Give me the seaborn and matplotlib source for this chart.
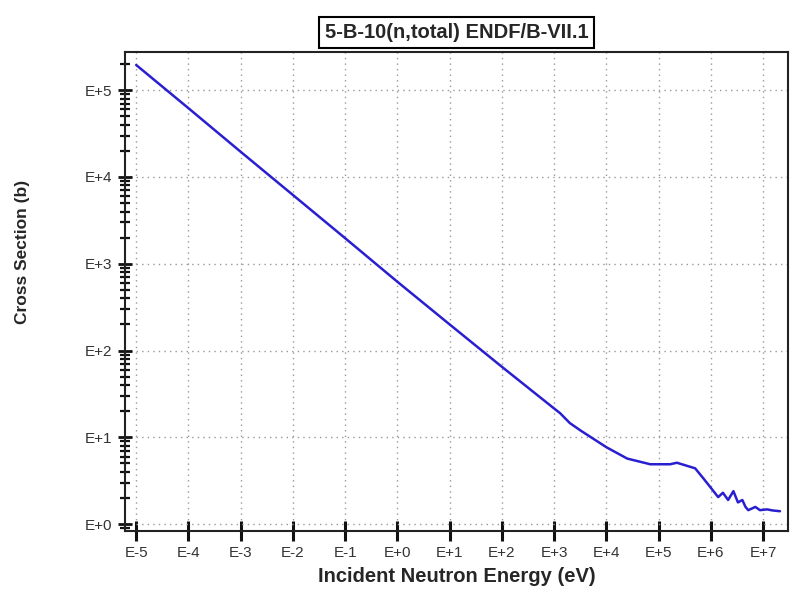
import numpy as np
import pandas as pd
import matplotlib
matplotlib.use("Agg")
import matplotlib.pyplot as plt
import matplotlib.ticker as mticker
import seaborn as sns

# Data (energy in eV, cross section in barns)
energy = [1e-5, 1e-4, 1e-3, 1e-2, 1e-1, 1.0, 10.0, 100.0, 1000.0,
          1.3e3, 2.0e3, 3.2e3, 1.0e4, 2.5e4, 6.9e4, 1.66e5, 2.24e5,
          5.0e5, 7.1e5, 1.38e6, 1.7e6, 2.14e6, 2.7e6, 3.3e6, 4.0e6,
          4.6e6, 5.2e6, 7.1e6, 8.7e6, 1.2e7, 1.5e7, 2.1e7]
xs = [1.95e5, 6.2e4, 1.95e4, 6.2e3, 1.97e3, 620, 200, 65, 21.5,
      19.0, 14.6, 12.0, 7.7, 5.7, 4.9, 4.9, 5.1,
      4.4, 3.4, 2.05, 2.3, 1.9, 2.4, 1.78, 1.9,
      1.58, 1.45, 1.58, 1.45, 1.48, 1.44, 1.41]

title = "5-B-10(n,total) ENDF/B-VII.1"
xlabel = "Incident Neutron Energy (eV)"
ylabel = "Cross Section (b)"

df = pd.DataFrame({"energy": energy, "xs": xs})

sns.set_style("white")
plt.rcParams["font.family"] = ["Liberation Sans", "DejaVu Sans"]

fig = plt.figure(figsize=(7.96, 6.05), dpi=100)
ax = fig.add_axes([0.157, 0.122, 0.833, 0.792])

sns.lineplot(data=df, x="energy", y="xs", ax=ax, color="#2a1fd0",
             linewidth=1.8, sort=False)

ax.set_xscale("log")
ax.set_yscale("log")
ax.set_xlim(6.1e-6, 3.0e7)
ax.set_ylim(0.83, 2.75e5)

def efmt(v, pos):
    if v <= 0:
        return ""
    e = int(round(np.log10(v)))
    return f"E+{e}" if e >= 0 else f"E{e}"

ax.xaxis.set_major_locator(mticker.LogLocator(base=10, numticks=30))
ax.xaxis.set_minor_locator(mticker.NullLocator())
ax.xaxis.set_major_formatter(mticker.FuncFormatter(efmt))
ax.yaxis.set_major_locator(mticker.LogLocator(base=10, numticks=30))
ax.yaxis.set_minor_locator(mticker.LogLocator(base=10, subs=np.arange(2, 10), numticks=30))
ax.yaxis.set_major_formatter(mticker.FuncFormatter(efmt))
ax.yaxis.set_minor_formatter(mticker.NullFormatter())

ax.tick_params(axis="x", which="major", bottom=True, direction="inout", length=14, width=2.2,
               color="#111111", labelsize=11, labelcolor="#333333", pad=4)
ax.tick_params(axis="y", which="major", left=True, direction="inout", length=10, width=2.0,
               color="#111111", labelsize=11, labelcolor="#333333", pad=4)
ax.tick_params(axis="y", which="minor", left=True, direction="inout", length=7, width=1.6,
               color="#111111")

ax.grid(True, which="major", linestyle=(0, (1, 3)), color="#999999", linewidth=1.0)

for side in ["left", "bottom", "top", "right"]:
    ax.spines[side].set_color("#222222")
    ax.spines[side].set_linewidth(1.5)

ax.set_xlabel(xlabel, fontsize=14.5, fontweight="bold", labelpad=5)
ax.set_ylabel(ylabel, fontsize=12.5, fontweight="bold")
ax.yaxis.set_label_coords(30 / 796, 1 - 252 / 605, transform=fig.transFigure)
ax.set_title(title, fontsize=14.5, fontweight="bold", pad=10,
             bbox=dict(facecolor="white", edgecolor="black", linewidth=1.5,
                       boxstyle="square,pad=0.3"))

fig.savefig("out.png", dpi=100, facecolor="white")
